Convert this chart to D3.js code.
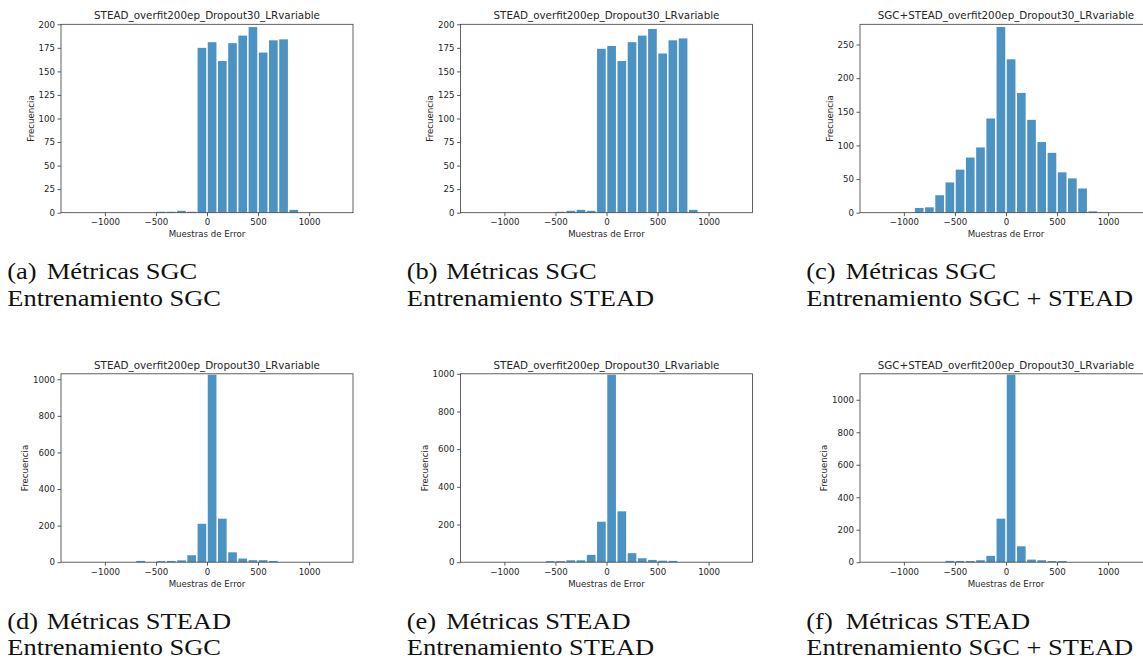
<!DOCTYPE html>
<html>
<head>
<meta charset="utf-8">
<script src="https://cdn.jsdelivr.net/npm/d3@7"></script>
<style>
  body { margin: 0; background: #fff; }
  svg { display: block; }
  .tick text { font-family: "DejaVu Sans", sans-serif; font-size: 8.63px; fill: #262626; }
  .tick line { stroke: #333; stroke-width: 0.8; }
  .chart-title { font-family: "DejaVu Sans", sans-serif; font-size: 10.35px; fill: #262626; }
  .axis-label { font-family: "DejaVu Sans", sans-serif; font-size: 8.63px; fill: #262626; }
  .caption { font-family: "Liberation Serif", "Times New Roman", serif; font-size: 23px; fill: #111; }
</style>
</head>
<body>
<div id="chart"></div>
<script>
// panel texts
const titles = [
    "STEAD_overfit200ep_Dropout30_LRvariable",
    "STEAD_overfit200ep_Dropout30_LRvariable",
    "SGC+STEAD_overfit200ep_Dropout30_LRvariable",
    "STEAD_overfit200ep_Dropout30_LRvariable",
    "STEAD_overfit200ep_Dropout30_LRvariable",
    "SGC+STEAD_overfit200ep_Dropout30_LRvariable"
];
const captionTags = ["(a)", "(b)", "(c)", "(d)", "(e)", "(f)"];
const captionMetrics = ["Métricas SGC", "Métricas SGC", "Métricas SGC", "Métricas STEAD", "Métricas STEAD", "Métricas STEAD"];
const captionTraining = ["Entrenamiento SGC", "Entrenamiento STEAD", "Entrenamiento SGC + STEAD",
                         "Entrenamiento SGC", "Entrenamiento STEAD", "Entrenamiento SGC + STEAD"];

// histogram bins (left edge) and counts, only non-empty bins
const binsA = [-500, -400, -300, -200, -100, 0, 100, 200, 300, 400, 500, 600, 700, 800];
const countsA = [1, 1, 2, 1, 175, 181, 161, 180, 188, 197, 170, 183, 184, 3];
const binsB = [-500, -400, -300, -200, -100, 0, 100, 200, 300, 400, 500, 600, 700, 800];
const countsB = [1, 2, 3, 2, 174, 177, 161, 181, 188, 195, 169, 183, 185, 3];
const binsC = [-900, -800, -700, -600, -500, -400, -300, -200, -100, 0, 100, 200, 300, 400, 500, 600, 700, 800];
const countsC = [7, 8, 26, 45, 64, 82, 97, 140, 276, 228, 178, 138, 105, 89, 60, 51, 36, 2];
const binsD = [-700, -500, -400, -300, -200, -100, 0, 100, 200, 300, 400, 500, 600];
const countsD = [7, 6, 7, 10, 38, 210, 1025, 238, 54, 20, 11, 11, 7];
const binsE = [-600, -500, -400, -300, -200, -100, 0, 100, 200, 300, 400, 500, 600];
const countsE = [6, 6, 10, 10, 39, 215, 995, 270, 48, 21, 12, 8, 7];
const binsF = [-600, -500, -400, -300, -200, -100, 0, 100, 200, 300, 400, 500];
const countsF = [8, 7, 7, 12, 39, 268, 1155, 98, 16, 12, 7, 7];

const allBins = [binsA, binsB, binsC, binsD, binsE, binsF];
const allCounts = [countsA, countsB, countsC, countsD, countsE, countsF];

const histRange = [-1300, 1300];
const binWidth = 100;
const yMaxes = [200, 200, 280, 1030, 1000, 1160];
const yTickSteps = [25, 25, 50, 200, 200, 200];
const xTicks = [-1000, -500, 0, 500, 1000];

const W = 1143, H = 668;
const axLeft = 61, axTop = 24.3, axW = 292, axH = 188.4;
const colStep = 399.5, rowStep = 349.5;
const rwidth = 0.85;

const svg = d3.select("#chart").append("svg")
    .attr("width", W)
    .attr("height", H);

const margin = (histRange[1] - histRange[0]) * 0.05;
const xScale = d3.scaleLinear()
    .domain([histRange[0] - margin, histRange[1] + margin])
    .range([0, axW]);

titles.forEach((title, i) => {
    const col = i % 3, row = Math.floor(i / 3);
    const g = svg.append("g")
        .attr("transform", `translate(${axLeft + col * colStep}, ${axTop + row * rowStep})`);

    const yScale = d3.scaleLinear()
        .domain([0, yMaxes[i]])
        .range([axH, 0]);

    g.append("clipPath").attr("id", `clip-${i}`)
        .append("rect").attr("width", axW).attr("height", axH);

    const data = allBins[i].map((b, k) => ({ start: b, count: allCounts[i][k] }));

    g.append("g")
        .attr("clip-path", `url(#clip-${i})`)
        .selectAll("rect")
        .data(data)
        .join("rect")
        .attr("x", d => xScale(d.start + binWidth * (1 - rwidth) / 2))
        .attr("width", d => xScale(d.start + binWidth * rwidth) - xScale(d.start))
        .attr("y", d => yScale(d.count))
        .attr("height", d => axH - yScale(d.count))
        .attr("fill", "#1f77b4")
        .attr("fill-opacity", 0.8);

    // x axis
    const xAxis = g.append("g")
        .attr("transform", `translate(0, ${axH})`)
        .call(d3.axisBottom(xScale).tickValues(xTicks).tickFormat(d3.format("d")).tickSize(3.5).tickPadding(3));
    xAxis.select(".domain").remove();

    // y axis
    const yTicks = d3.range(0, yMaxes[i] + 1, yTickSteps[i]);
    const yAxis = g.append("g")
        .call(d3.axisLeft(yScale).tickValues(yTicks).tickFormat(d3.format("d")).tickSize(3.5).tickPadding(2.5));
    yAxis.select(".domain").remove();

    let maxTickW = 0;
    yAxis.selectAll(".tick text").each(function() {
        maxTickW = Math.max(maxTickW, this.getComputedTextLength());
    });

    // frame
    g.append("rect")
        .attr("width", axW)
        .attr("height", axH)
        .attr("fill", "none")
        .attr("stroke", "#3a3a3a")
        .attr("stroke-width", 0.8);

    g.append("text")
        .attr("class", "chart-title")
        .attr("x", axW / 2)
        .attr("y", -5.3)
        .attr("text-anchor", "middle")
        .text(title);

    g.append("text")
        .attr("class", "axis-label")
        .attr("x", axW / 2)
        .attr("y", axH + 24.6)
        .attr("text-anchor", "middle")
        .text("Muestras de Error");

    g.append("text")
        .attr("class", "axis-label")
        .attr("transform", "rotate(-90)")
        .attr("x", -axH / 2)
        .attr("y", -6 - maxTickW - 5)
        .attr("text-anchor", "middle")
        .text("Frecuencia");

    // caption below the panel
    const cap = svg.append("g")
        .attr("transform", `translate(${7.3 + col * colStep}, ${279 + row * rowStep}) scale(1.15, 1)`);
    cap.append("text").attr("class", "caption").attr("x", 0).attr("y", 0).text(captionTags[i]);
    cap.append("text").attr("class", "caption").attr("x", 34.3).attr("y", 0).text(captionMetrics[i]);
    cap.append("text").attr("class", "caption").attr("x", 0).attr("y", 27).text(captionTraining[i]);
});
</script>
</body>
</html>
